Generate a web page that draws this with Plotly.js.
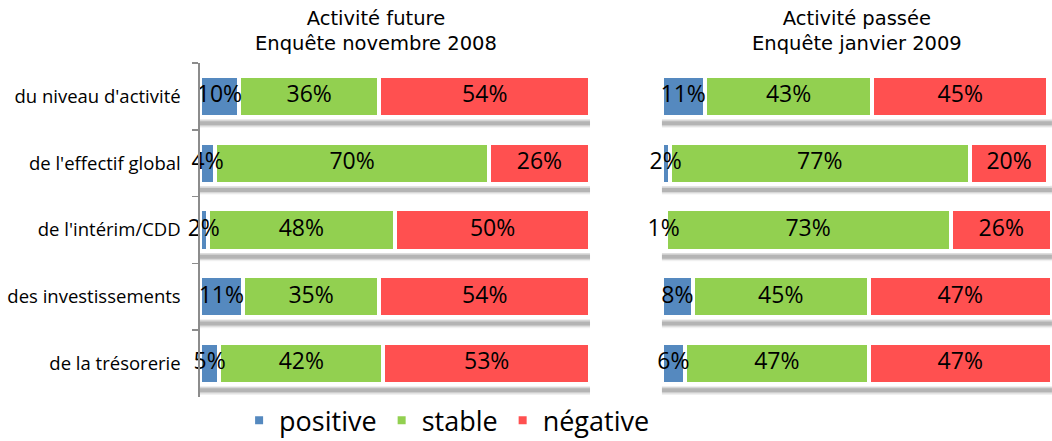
<!DOCTYPE html>
<html><head><meta charset="utf-8">
<script src="https://cdn.plot.ly/plotly-3.0.1.min.js"></script>
<style>body{margin:0;background:#fff}#c{width:1052px;height:441px}</style>
</head><body><div id="c"></div>
<script>
const categories = ["du niveau d'activité","de l'effectif global","de l'intérim/CDD","des investissements","de la trésorerie"];
const seriesNames = ["positive","stable","négative"];
const colors = ["#5589BF","#92D050","#FF5050"];
const title1 = "Activité future<br>Enquête novembre 2008";
const title2 = "Activité passée<br>Enquête janvier 2009";
const futPositive = [10,4,2,11,5];
const futStable = [36,70,48,35,42];
const futNegative = [54,26,50,54,53];
const pasPositive = [11,2,1,8,6];
const pasStable = [43,77,73,45,47];
const pasNegative = [45,20,26,47,47];

const fut = [futPositive,futStable,futNegative];
const pas = [pasPositive,pasStable,pasNegative];
const traces = [];
function add(sets, xa, ya, showLeg){
  sets.forEach((vals,i)=>{
    traces.push({type:'bar',orientation:'h',x:vals,y:categories,name:seriesNames[i],
      xaxis:xa,yaxis:ya,showlegend:showLeg,legendgroup:seriesNames[i],
      marker:{color:colors[i],line:{color:'#ffffff',width:4}},
      width:0.62,textposition:'none',hoverinfo:'x+y'});
  });
  const xs=[],ys=[],ts=[];
  categories.forEach((c,j)=>{
    let cum=0;
    sets.forEach(vals=>{xs.push(cum+vals[j]/2);ys.push(c);ts.push(vals[j]+'%');cum+=vals[j];});
  });
  traces.push({type:'scatter',mode:'text',x:xs,y:ys,text:ts,xaxis:xa,yaxis:ya,showlegend:false,
    cliponaxis:false,textposition:'middle center',
    textfont:{family:'Open Sans, sans-serif',size:23,color:'#000'},hoverinfo:'skip'});
}
add(fut,'x','y',true);
add(pas,'x2','y2',false);

const shapes=[];
['x','x2'].forEach((xa,k)=>{
  const ya = k===0?'y':'y2';
  categories.forEach((c,i)=>{
    const layers=[[0.335,0.47,'rgba(0,0,0,0.06)'],[0.35,0.45,'rgba(0,0,0,0.10)'],[0.37,0.43,'rgba(0,0,0,0.16)']];
    layers.forEach(l=>shapes.push({type:'rect',xref:xa,yref:ya,x0:0,x1:100,y0:i+l[0],y1:i+l[1],
      fillcolor:l[2],line:{width:0},layer:'below'}));
  });
});

const yr=[categories.length-0.5,-0.5];
const layout={
  width:1052,height:441,margin:{l:0,r:0,t:0,b:0,autoexpand:false},paper_bgcolor:'#fff',plot_bgcolor:'rgba(0,0,0,0)',
  barmode:'stack',
  font:{family:'Open Sans, sans-serif',color:'#000'},
  xaxis:{domain:[0.190,0.561],range:[0,100],showticklabels:false,showgrid:false,zeroline:false,ticks:'',fixedrange:true},
  xaxis2:{domain:[0.629,1.0],range:[0,100],showticklabels:false,showgrid:false,zeroline:false,ticks:'',fixedrange:true},
  yaxis:{domain:[0.10,0.857],anchor:'x',range:yr,autorange:false,showline:true,linecolor:'#8c8c8c',linewidth:1.5,
    ticks:'outside',tickson:'boundaries',ticklen:6,tickcolor:'#8c8c8c',tickwidth:1.5,showgrid:false,
    ticklabelstandoff:14,tickfont:{family:'Open Sans, sans-serif',size:18.5,color:'#000'}},
  yaxis2:{domain:[0.10,0.857],anchor:'x2',range:yr,autorange:false,showticklabels:false,showline:false,ticks:'',showgrid:false},
  shapes:shapes,
  annotations:[
    {text:title1,xref:'paper',yref:'paper',x:0.357,xanchor:'center',y:1.0,yshift:-5,yanchor:'top',showarrow:false,align:'center',
      font:{family:'DejaVu Sans, sans-serif',size:19.5,color:'#000'}},
    {text:title2,xref:'paper',yref:'paper',x:0.815,xanchor:'center',y:1.0,yshift:-5,yanchor:'top',showarrow:false,align:'center',
      font:{family:'DejaVu Sans, sans-serif',size:19.5,color:'#000'}}
  ],
  legend:{orientation:'h',x:0.425,xanchor:'center',y:0.046,yanchor:'middle',
    font:{family:'Open Sans, sans-serif',size:27,color:'#000'},itemwidth:30,tracegroupgap:0},
};
Plotly.newPlot('c',traces,layout,{displayModeBar:false,staticPlot:true});
</script></body></html>
